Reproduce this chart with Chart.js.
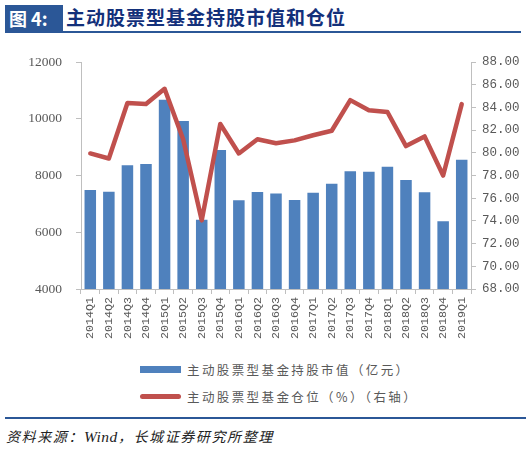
<!DOCTYPE html>
<html>
<head>
<meta charset="utf-8">
<script src="https://cdn.jsdelivr.net/npm/chart.js@4"></script>
<style>
  html, body { margin:0; padding:0; background:#fff; width:531px; height:450px; overflow:hidden; }
  #title-box { position:absolute; left:5px; top:5px; width:58px; height:26px; background:#2b5797; color:#fff;
    font:bold 18px "Noto Sans CJK SC"; line-height:26px; text-indent:4px; }
  #title-text { position:absolute; left:66px; top:4px; color:#13307a; font:bold 19px "Noto Sans CJK SC"; line-height:26px; letter-spacing:1px; }
  #title-rule { position:absolute; left:5px; top:31px; width:516px; height:2px; background:#2b5797; }
  #chart-wrap { position:absolute; left:0; top:40px; width:531px; height:304px; }
  #legend { position:absolute; left:140px; top:356px; }
  .lg-item { display:flex; align-items:center; height:27px; font:12.5px "Noto Sans CJK SC"; color:#595959; letter-spacing:2.4px; }
  .lg-sw { width:41px; margin-right:6px; }
  #src-rule { position:absolute; left:5px; top:417px; width:521px; height:2px; background:#2b5797; }
  #source { position:absolute; left:6px; top:426px; font:italic 14px "Noto Sans CJK SC"; color:#222; letter-spacing:1.6px; }
  #source .w { font-family:"Liberation Serif"; font-size:15.5px; letter-spacing:0.5px; }
</style>
</head>
<body>
<div id="title-box">图 4:</div>
<div id="title-text">主动股票型基金持股市值和仓位</div>
<div id="title-rule"></div>
<div id="chart-wrap"><canvas id="c"></canvas></div>
<div id="legend"></div>
<div id="src-rule"></div>
<div id="source">资料来源：<span class="w">Wind</span>，长城证券研究所整理</div>
<script>
// ===== DATA =====
const quarters = ['2014Q1','2014Q2','2014Q3','2014Q4','2015Q1','2015Q2','2015Q3','2015Q4',
  '2016Q1','2016Q2','2016Q3','2016Q4','2017Q1','2017Q2','2017Q3','2017Q4',
  '2018Q1','2018Q2','2018Q3','2018Q4','2019Q1'];
const marketValue = [7490,7430,8360,8410,10670,9920,6440,8900,7130,7420,7370,7140,7390,
  7710,8150,8130,8310,7840,7410,6390,8560];
const position = [79.95,79.5,84.4,84.3,85.65,81.2,74.05,82.55,79.95,81.2,80.85,81.1,81.55,
  81.95,84.65,83.75,83.6,80.6,81.45,78.0,84.3];
const leftTicks = [4000,6000,8000,10000,12000];
const rightTicks = [68,70,72,74,76,78,80,82,84,86,88];

const BAR_COLOR = '#4f81bd';
const LINE_COLOR = '#c0504d';
const AXIS_COLOR = '#bfbfbf';
const TICK_COLOR = '#595959';

const chart = new Chart(document.getElementById('c'), {
  type:'bar',
  data:{
    labels:quarters,
    datasets:[
      {type:'line', label:'主动股票型基金仓位（%）（右轴）', data:position, borderColor:LINE_COLOR,
       backgroundColor:LINE_COLOR, borderWidth:4.5, pointRadius:0, tension:0, yAxisID:'y1', order:1,
       borderJoinStyle:'round', borderCapStyle:'round'},
      {type:'bar', label:'主动股票型基金持股市值（亿元）', data:marketValue, backgroundColor:BAR_COLOR,
       categoryPercentage:1, barPercentage:0.62, yAxisID:'y', order:2},
    ]
  },
  options:{
    responsive:true, maintainAspectRatio:false, animation:false,
    layout:{padding:{top:18, left:0, right:0, bottom:0}},
    plugins:{legend:{display:false}, tooltip:{enabled:false}},
    scales:{
      x:{
        grid:{drawOnChartArea:false, drawTicks:true, tickLength:5, color:AXIS_COLOR, offset:true},
        border:{color:AXIS_COLOR},
        ticks:{minRotation:90, maxRotation:90, color:TICK_COLOR, padding:3,
               font:{family:'Liberation Mono', size:11.7}},
        afterFit:s=>{ s.height = 55; }
      },
      y:{
        position:'left', min:4000, max:12000,
        afterBuildTicks:s=>{ s.ticks = leftTicks.map(v=>({value:v})); },
        grid:{drawOnChartArea:false, tickLength:5, color:AXIS_COLOR},
        border:{color:AXIS_COLOR},
        ticks:{color:TICK_COLOR, padding:14, font:{family:'Liberation Serif', size:13.5},
               callback:v=>String(v)},
        afterFit:s=>{ s.width = 81; }
      },
      y1:{
        position:'right', min:68, max:88,
        afterBuildTicks:s=>{ s.ticks = rightTicks.map(v=>({value:v})); },
        grid:{drawOnChartArea:false, tickLength:5, color:AXIS_COLOR},
        border:{color:AXIS_COLOR},
        ticks:{color:TICK_COLOR, padding:6, font:{family:'Liberation Mono', size:12.5},
               callback:v=>Number(v).toFixed(2)},
        afterFit:s=>{ s.width = 60; }
      }
    }
  }
});

// ===== HTML LEGEND (bar first, then line) =====
const legendOrder = [1,0];
document.getElementById('legend').innerHTML = legendOrder.map(i=>{
  const ds = chart.data.datasets[i];
  const sw = ds.type==='bar'
    ? `<div class="lg-sw" style="height:7px;background:${ds.backgroundColor}"></div>`
    : `<div class="lg-sw" style="height:5px;border-radius:3px;background:${ds.borderColor}"></div>`;
  return `<div class="lg-item">${sw}<span>${ds.label}</span></div>`;
}).join('');
</script>
</body>
</html>
